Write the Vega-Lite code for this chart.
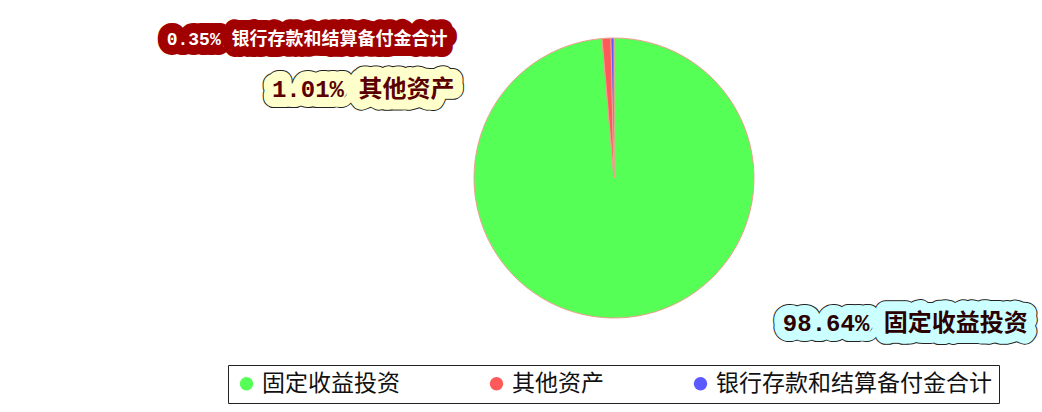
{
  "$schema": "https://vega.github.io/schema/vega-lite/v6.json",
  "autosize": {"type": "none"},
  "width": 560,
  "height": 280,
  "padding": {"left": 334, "top": 38, "right": 148, "bottom": 94},
  "background": "white",
  "data": {
    "values": [
      {"category": "固定收益投资", "pct": 98.64, "label": "98.64% 固定收益投资"},
      {"category": "其他资产", "pct": 1.01, "label": "1.01% 其他资产"},
      {"category": "银行存款和结算备付金合计", "pct": 0.35, "label": "0.35% 银行存款和结算备付金合计"}
    ]
  },
  "encoding": {
    "theta": {"field": "pct", "type": "quantitative", "stack": true, "sort": null},
    "order": {"field": "pct", "type": "quantitative", "sort": "descending"}
  },
  "layer": [
    {
      "mark": {"type": "arc", "stroke": "#f0a090", "strokeWidth": 1},
      "encoding": {
        "color": {
          "field": "category",
          "type": "nominal",
          "sort": ["固定收益投资", "其他资产", "银行存款和结算备付金合计"],
          "scale": {
            "domain": ["固定收益投资", "其他资产", "银行存款和结算备付金合计"],
            "range": ["#55ff55", "#ff5a5a", "#5a5aff"]
          },
          "legend": {
            "title": null,
            "orient": "none",
            "legendX": -106,
            "legendY": 327,
            "direction": "horizontal",
            "strokeColor": "#222222",
            "fillColor": "white",
            "padding": 7,
            "symbolType": "circle",
            "symbolSize": 180,
            "symbolStrokeWidth": 0,
            "labelFont": "Noto Sans CJK SC",
            "labelFontSize": 23,
            "labelColor": "#111111",
            "labelLimit": 400,
            "columnPadding": 85,
            "symbolOffset": 0
          }
        }
      }
    },
    {
      "transform": [{"filter": "datum.pct > 50"}],
      "mark": {"type": "text", "radius": 100, "dx": 287, "dy": 46, "font": "Liberation Mono, Noto Sans CJK SC", "fontSize": 24, "fontWeight": "bold", "fill": "#222222", "stroke": "#222222", "strokeWidth": 22, "strokeJoin": "round", "align": "center", "baseline": "middle"},
      "encoding": {"text": {"field": "label"}}
    },
    {
      "transform": [{"filter": "datum.pct > 50"}],
      "mark": {"type": "text", "radius": 100, "dx": 287, "dy": 46, "font": "Liberation Mono, Noto Sans CJK SC", "fontSize": 24, "fontWeight": "bold", "fill": "#ccffff", "stroke": "#ccffff", "strokeWidth": 20, "strokeJoin": "round", "align": "center", "baseline": "middle"},
      "encoding": {"text": {"field": "label"}}
    },
    {
      "transform": [{"filter": "datum.pct > 50"}],
      "mark": {"type": "text", "radius": 100, "dx": 287, "dy": 46, "font": "Liberation Mono, Noto Sans CJK SC", "fontSize": 24, "fontWeight": "bold", "fill": "#2a0000", "align": "center", "baseline": "middle"},
      "encoding": {"text": {"field": "label"}}
    },
    {
      "transform": [{"filter": "datum.pct > 1 && datum.pct < 50"}],
      "mark": {"type": "text", "radius": 100, "dx": -254, "dy": 12, "font": "Liberation Mono, Noto Sans CJK SC", "fontSize": 24, "fontWeight": "bold", "fill": "#222222", "stroke": "#222222", "strokeWidth": 22, "strokeJoin": "round", "align": "center", "baseline": "middle"},
      "encoding": {"text": {"field": "label"}}
    },
    {
      "transform": [{"filter": "datum.pct > 1 && datum.pct < 50"}],
      "mark": {"type": "text", "radius": 100, "dx": -254, "dy": 12, "font": "Liberation Mono, Noto Sans CJK SC", "fontSize": 24, "fontWeight": "bold", "fill": "#ffffcc", "stroke": "#ffffcc", "strokeWidth": 20, "strokeJoin": "round", "align": "center", "baseline": "middle"},
      "encoding": {"text": {"field": "label"}}
    },
    {
      "transform": [{"filter": "datum.pct > 1 && datum.pct < 50"}],
      "mark": {"type": "text", "radius": 100, "dx": -254, "dy": 12, "font": "Liberation Mono, Noto Sans CJK SC", "fontSize": 24, "fontWeight": "bold", "fill": "#5a0000", "align": "center", "baseline": "middle"},
      "encoding": {"text": {"field": "label"}}
    },
    {
      "transform": [{"filter": "datum.pct < 1"}],
      "mark": {"type": "text", "radius": 100, "dx": -308, "dy": -38, "font": "Liberation Mono, Noto Sans CJK SC", "fontSize": 18, "fontWeight": "bold", "fill": "#a00000", "stroke": "#a00000", "strokeWidth": 20, "strokeJoin": "round", "align": "center", "baseline": "middle"},
      "encoding": {"text": {"field": "label"}}
    },
    {
      "transform": [{"filter": "datum.pct < 1"}],
      "mark": {"type": "text", "radius": 100, "dx": -308, "dy": -38, "font": "Liberation Mono, Noto Sans CJK SC", "fontSize": 18, "fontWeight": "bold", "fill": "#ffffff", "align": "center", "baseline": "middle"},
      "encoding": {"text": {"field": "label"}}
    }
  ],
  "config": {"view": {"stroke": null}}
}
